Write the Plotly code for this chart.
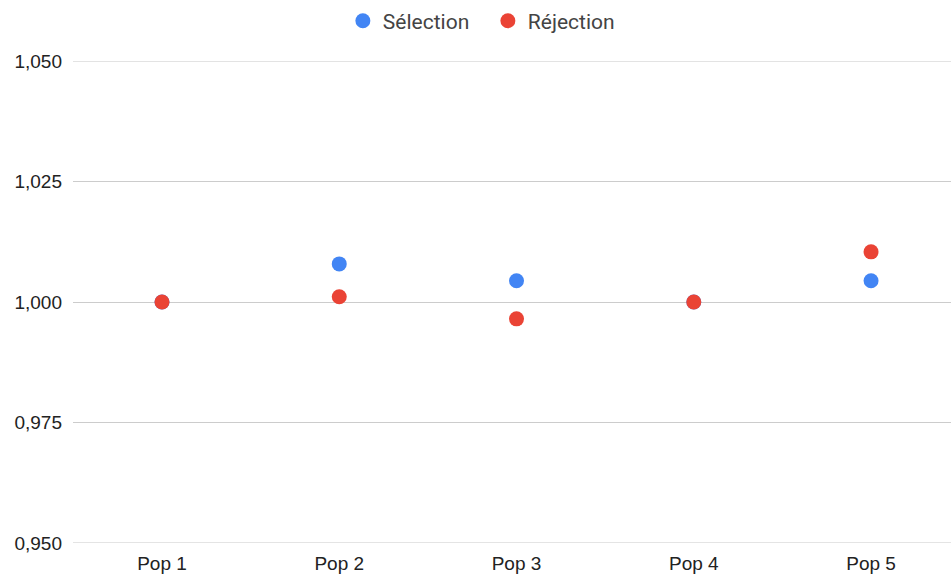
import plotly.graph_objects as go

categories = ["Pop 1", "Pop 2", "Pop 3", "Pop 4", "Pop 5"]
selection = [1.000, 1.0079, 1.0044, 1.000, 1.0044]
rejection = [1.000, 1.0011, 0.9965, 1.000, 1.0104]
y_ticks = [0.950, 0.975, 1.000, 1.025, 1.050]

fig = go.Figure()
fig.add_trace(go.Scatter(x=categories, y=selection, mode="markers", name="Sélection",
                         marker=dict(color="#4285F4", size=15)))
fig.add_trace(go.Scatter(x=categories, y=rejection, mode="markers", name="Réjection",
                         marker=dict(color="#EA4335", size=15)))

for v in (y_ticks[0], y_ticks[-1]):
    fig.add_hline(y=v, line=dict(color="#c8c8c8", width=1), layer="below")

fig.update_layout(
    width=951, height=574,
    margin=dict(l=73, r=0, t=61, b=31),
    paper_bgcolor="white", plot_bgcolor="white",
    separators=", ",
    font=dict(family="Liberation Sans, Arial", size=19, color="#222222"),
    legend=dict(orientation="h", x=0.513, xanchor="center", xref="container",
                y=0.999, yanchor="top", yref="container",
                font=dict(family="Roboto, Liberation Sans", size=21, color="#444444"),
                itemsizing="trace", entrywidth=100),
    showlegend=True,
)
fig.update_xaxes(type="category", range=[-0.502, 4.451], showgrid=False, showline=False,
                 ticks="", ticklabelstandoff=7)
fig.update_yaxes(range=[0.950, 1.050], tickvals=y_ticks, tickformat=".3f",
                 showgrid=True, gridcolor="#cccccc", gridwidth=1, zeroline=False,
                 ticks="", ticklabelstandoff=10)

fig.write_html("out.html", config={"displayModeBar": False},
               post_script="document.body.style.margin='0';document.body.style.overflow='hidden';")
